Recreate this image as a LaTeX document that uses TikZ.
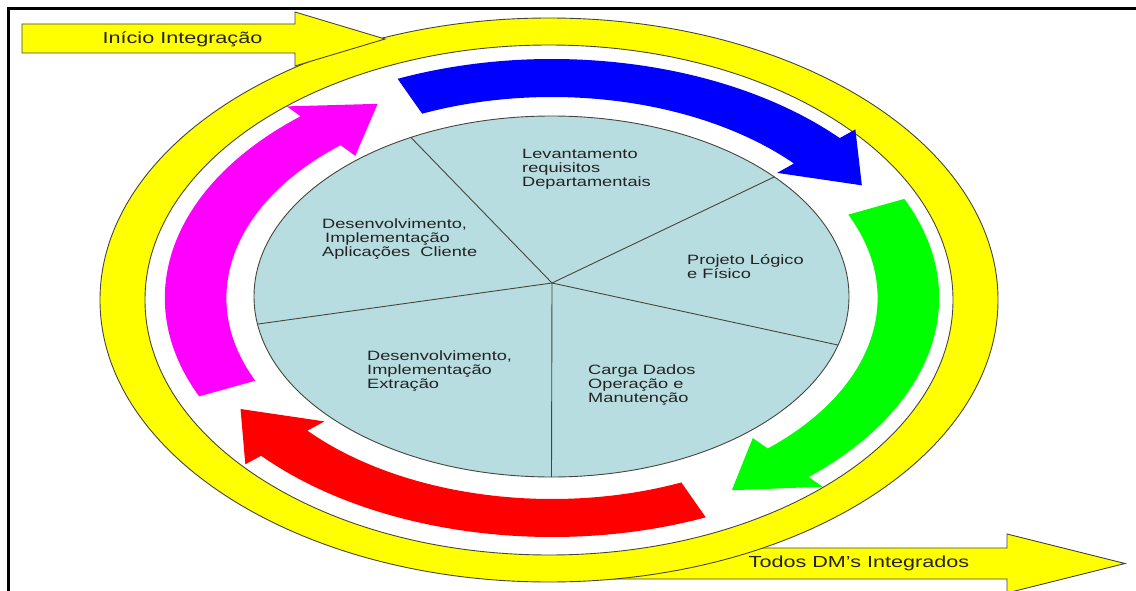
\documentclass[tikz,border=0pt]{standalone}
\usepackage{fontspec}
\newfontfamily\labelfont[FakeStretch=1.35]{Liberation Sans}
\usetikzlibrary{calc}
\definecolor{pieblue}{RGB}{184,221,225}
\definecolor{edgegray}{RGB}{70,70,60}
\definecolor{txt}{RGB}{35,35,35}
\definecolor{ringyellow}{RGB}{255,255,0}
\definecolor{stepblue}{RGB}{0,0,255}
\definecolor{stepgreen}{RGB}{0,255,0}
\definecolor{stepred}{RGB}{255,0,0}
\definecolor{stepmagenta}{RGB}{255,0,255}

% curved block arrow on the elliptical track: colour, tail angle, head base angle, tip angle
\newcommand\phasearrow[4]{%
  \fill[#1] (#2:239pt) arc[start angle=#2, end angle=#3, radius=239pt]
    -- (#3:252pt) -- (#4:222pt) -- (#3:187pt) -- (#3:201pt)
    arc[start angle=#3, end angle=#2, radius=201pt] -- cycle;}

\begin{document}
\begin{tikzpicture}[x=1pt,y=1pt,
  outline/.style={draw=edgegray, line width=0.9pt},
  phase/.style={font={\labelfont\fontsize{13.5}{13.8}\selectfont}, text=txt,
    align=left, inner sep=0pt, anchor=west},
  banner/.style={font={\labelfont\fontsize{16}{16}\selectfont}, text=txt, inner sep=0pt}
]
\useasboundingbox (0,0) rectangle (1136,-591);
\fill[white] (0,0) rectangle (1136,-591);

% frame
\draw[line width=3pt] (7,-8.5) -- (1136,-8.5);
\draw[line width=3pt] (8.5,-7) -- (8.5,-591);

% exit arrow leaving the ring
\filldraw[fill=ringyellow, outline] (600,-548) -- (1007,-548) -- (1007,-534) -- (1125,-563.5)
  -- (1007,-593) -- (1007,-579) -- (600,-579) -- cycle;

% integration ring
\coordinate (rc) at (549,-300);
\fill[white] (rc) ellipse [x radius=404, y radius=255];
\filldraw[fill=ringyellow, outline, even odd rule] (rc) ellipse [x radius=449, y radius=282]
  (rc) ellipse [x radius=404, y radius=255];

% entry arrow
\filldraw[fill=ringyellow, outline] (22,-24) -- (295,-24) -- (295,-12) -- (385,-39)
  -- (295,-66) -- (295,-53) -- (22,-53) -- cycle;

% cycle arrows
\begin{scope}[shift={(552,-298)}, xscale=1.62]
  \phasearrow{stepblue}{113.5}{42}{30.5}
  \phasearrow{stepgreen}{24.5}{-48.5}{-60}
  \phasearrow{stepred}{-66.6}{-138.7}{-150}
  \phasearrow{stepmagenta}{-155.7}{-229.5}{-241}
\end{scope}

% phase wheel
\coordinate (pc) at (551.5,-296.5);
\coordinate (hub) at (552,-283);
\filldraw[fill=pieblue, outline] (pc) ellipse [x radius=297.5, y radius=180.5];
\foreach \t in {118.2,41.5,-15.6,-90,188.8}
  \draw[outline] (hub) -- ($(pc)+(\t:297.5pt and 180.5pt)$);

\node[phase] (levant) at (522,-169) {Levantamento\\requisitos\\Departamentais};
\node[phase] (projeto) at (687,-266.5) {Projeto Lógico\\e Físico};
\node[phase] (carga) at (588,-385) {Carga Dados\\Operação e\\Manutenção};
\node[phase] (extr) at (367,-371) {Desenvolvimento,\\Implementação\\Extração};
\node[phase] (aplic) at (322,-239) {Desenvolvimento,\\\hspace{3pt}Implementação\\Aplicações\ \ Cliente};

\node[banner] (inicio) at (182.5,-39) {Início Integração};
\node[banner] (todos) at (859,-563) {Todos DM’s Integrados};
\end{tikzpicture}
\end{document}
